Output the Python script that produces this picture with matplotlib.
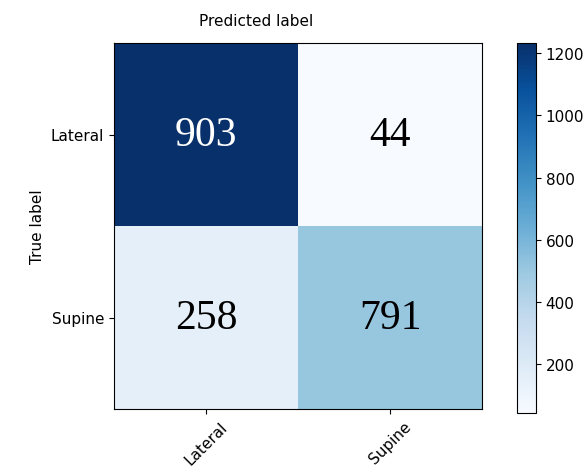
import numpy as np
import matplotlib as mpl
mpl.use('Agg')
import matplotlib.pyplot as plt

classes = ['Lateral', 'Supine']
counts = np.array([[903, 44],
                   [258, 791]])
# cell shading as read against the colorbar (it does not follow the counts)
shade = np.array([[1232, 44],
                  [150, 510]])
cb_min, cb_max = 44, 1232
cb_ticks = [200, 400, 600, 800, 1000, 1200]

fig = plt.figure(figsize=(5.88, 4.77), dpi=100)
ax = fig.add_axes([114/588, 1-410/477, 368/588, 366/477])
cax = fig.add_axes([517/588, 1-414/477, 19/588, 370/477])

im = ax.imshow(shade, interpolation='nearest', cmap=plt.cm.Blues,
               vmin=cb_min, vmax=cb_max, aspect='auto')
cb = fig.colorbar(im, cax=cax)
cb.set_ticks(cb_ticks)
cb.ax.tick_params(labelsize=11)

ax.set_xticks(np.arange(len(classes)))
ax.set_yticks(np.arange(len(classes)))
ax.set_xticklabels(classes, rotation=45, fontsize=11)
ax.set_yticklabels(classes, fontsize=11)
ax.set_ylabel('True label', fontsize=11)
fig.text(256/588, 1-22/477, 'Predicted label', ha='center', va='center', fontsize=11)

thresh = shade.max() / 2.
for i in range(counts.shape[0]):
    for j in range(counts.shape[1]):
        ax.text(j, i, format(counts[i, j], 'd'),
                ha='center', va='center', fontsize=30,
                family='Liberation Serif',
                color='white' if shade[i, j] > thresh else 'black')

fig.savefig('out.png', dpi=100)
